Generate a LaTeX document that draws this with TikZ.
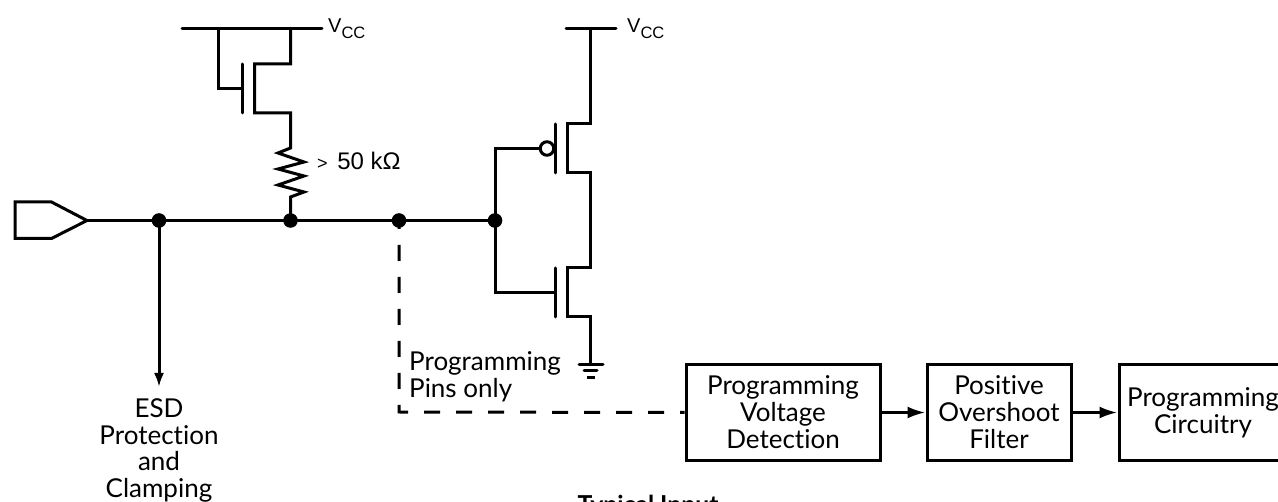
\documentclass[tikz,border=0pt]{standalone}
\usepackage{fontspec}
\setmainfont[Ligatures=NoCommon]{Lato}
\newfontfamily\helv{Liberation Sans}
\usetikzlibrary{arrows.meta}
\tikzset{
 wire/.style={line width=3pt,line cap=round,line join=miter},
 dot/.style={circle,fill=black,inner sep=0pt,minimum size=14.6pt},
 lab/.style={font=\fontsize{26}{27}\selectfont,align=center,inner sep=0pt},
 vcc/.style={font=\helv\fontsize{20}{24}\selectfont,inner sep=0pt,anchor=base west},
 block/.style={draw,line width=3pt,lab,minimum height=96.5pt},
 arr/.style={wire,line cap=butt,-{Latex[length=18pt,width=12pt]}},
 arrthin/.style={wire,line cap=butt,-{Latex[length=14pt,width=10pt]}},
}
\newcommand{\vccname}{V\raisebox{-6pt}{\fontsize{16.5}{16.5}\selectfont CC}}
\begin{document}
\begin{tikzpicture}[x=1pt,y=-1pt]
\useasboundingbox (0,0) rectangle (1278,502);
% input pad
\coordinate (padtip) at (87,220.5);
\draw[wire] (15,202) -- (51.5,202) -- (padtip) -- (51.5,238.5) -- (15,238.5) -- cycle;
\node[dot] (d1) at (159,220.5) {};
\node[dot] (d2) at (290.5,220.5) {};
\node[dot] (d3) at (399,220.5) {};
\node[dot] (d4) at (495,220.5) {};
\draw[wire] (padtip) -- (d1.center) -- (d2.center) -- (d3.center) -- (d4.center);
% ESD
\node[lab,anchor=base] (esd) at (159,498) {ESD\\Protection\\and\\Clamping};
\coordinate (esdend) at (159,387);
\draw[arrthin] (d1.center) -- (esdend);
% top transistor
\coordinate (r1) at (182,28.5); \coordinate (r2) at (322,28.5);
\draw[wire] (r1) -- (r2);
\node[vcc] (v1) at (328,33) {\vccname};
\draw[wire] (218.5,28.5) -- (218.5,89) -- (242.5,89);
\draw[wire] (242.5,64) -- (242.5,113);
\draw[wire] (290.5,28.5) -- (290.5,64) -- (254.5,64) -- (254.5,113) -- (290.5,113) -- (290.5,148)
  -- (278,153) -- (304,162) -- (278,169) -- (304,176) -- (278,185) -- (304,192) -- (290.5,197) -- (d2.center);
\node[font=\helv\fontsize{24}{24}\selectfont,anchor=base west,inner sep=0pt] (r) at (317,170) {{\fontsize{18}{18}\selectfont >}\hspace{3pt} 50 kΩ};
% CMOS
\coordinate (r3) at (566,28.5); \coordinate (r4) at (616,28.5);
\draw[wire] (r3) -- (r4);
\node[vcc] (v2) at (627,33) {\vccname};
\draw[wire] (590.5,28.5) -- (590.5,124) -- (567,124) -- (567,172.5) -- (590.5,172.5) -- (590.5,268) -- (567,268) -- (567,316.5) -- (590.5,316.5) -- (590.5,364.5);
\draw[wire] (555,124) -- (555,173);
\draw[wire] (555,268) -- (555,317);
\node[circle,draw,line width=3pt,fill=white,minimum size=13.5pt,inner sep=0pt] (bub) at (547,148.5) {};
\draw[wire] (bub.west) -- (495,148.5) -- (d4.center) -- (495,292.5) -- (555,292.5);
% ground
\draw[wire] (579,364.5) -- (603,364.5);
\draw[wire] (584,371) -- (597,371);
\draw[line width=3pt] (587,377.5) -- (595,377.5);
% blocks
\node[lab,align=left,anchor=base west] (pp) at (409,398) {Programming\\Pins only};
\node[block,minimum width=194pt] (pv) at (783,412.5) {Programming\\Voltage\\Detection};
\node[block,minimum width=144pt] (pf) at (999,412.5) {Positive\\Overshoot\\Filter};
\node[block,minimum width=168pt] (pc) at (1203,412.5) {Programming\\Circuitry};
% dashed
\coordinate (dc) at (399,412);
\draw[line width=3pt,dash pattern=on 16pt off 16pt,dash phase=7.5pt] (d3.center) -- (dc) -- (pv.west);
\draw[arr] (pv.east) -- (pf.west);
\draw[arr] (pf.east) -- (pc.west);
\node[font=\bfseries\fontsize{24.7}{26}\selectfont,inner sep=0pt,anchor=base] (t) at (648,514) {Typical Input};
\end{tikzpicture}
\end{document}
